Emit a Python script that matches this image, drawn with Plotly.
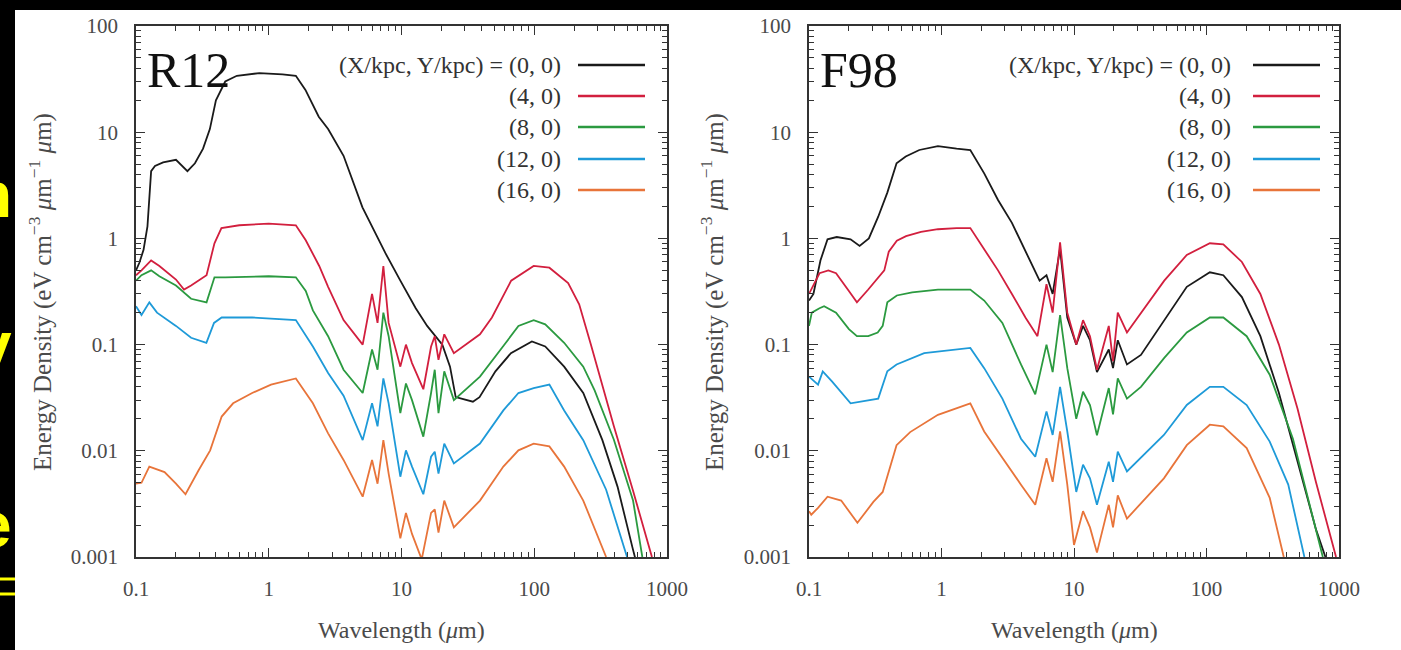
import plotly.graph_objects as go

# ---------------- data ----------------
series_labels = ["(0, 0)", "(4, 0)", "(8, 0)", "(12, 0)", "(16, 0)"]
series_colors = ["#1a1a1a", "#d21f3e", "#2b9a40", "#1e9ad8", "#e8743a"]
panel_names = ["R12", "F98"]

# R12 panel
r12_lam_0 = [0.1, 0.106, 0.114, 0.122, 0.13, 0.139, 0.16, 0.2, 0.244, 0.278, 0.32, 0.36, 0.4, 0.47, 0.575, 0.85, 1.27, 1.6, 1.89, 2.38, 2.8, 3.66, 5.08, 7.55, 9.8, 12.8, 15.6, 20.3, 23.2, 25.6, 34.5, 38.7, 51, 66.7, 96, 121, 168, 234, 326, 424, 552, 600]
r12_val_0 = [0.5, 0.59, 0.78, 1.3, 4.3, 4.8, 5.2, 5.5, 4.3, 5.1, 7.0, 10.7, 20, 30, 34, 36, 35, 34, 25, 14, 10.7, 6, 1.96, 0.73, 0.4, 0.22, 0.15, 0.1, 0.062, 0.032, 0.029, 0.032, 0.056, 0.083, 0.107, 0.096, 0.062, 0.035, 0.0126, 0.0046, 0.0012, 0.0008]

r12_lam_4 = [0.1, 0.11, 0.13, 0.15, 0.2, 0.23, 0.26, 0.34, 0.39, 0.44, 0.6, 1.0, 1.6, 1.9, 2.4, 2.8, 3.66, 5.1, 6.0, 6.6, 7.3, 8.0, 9.8, 10.8, 12, 14.6, 16.7, 17.8, 19, 21, 24.8, 39, 48, 67, 99, 130, 180, 218, 267, 398, 555, 770]
r12_val_4 = [0.45, 0.5, 0.62, 0.55, 0.41, 0.33, 0.36, 0.45, 0.9, 1.25, 1.33, 1.38, 1.33, 0.96, 0.55, 0.35, 0.17, 0.1, 0.3, 0.16, 0.55, 0.16, 0.062, 0.1, 0.067, 0.038, 0.096, 0.12, 0.072, 0.125, 0.083, 0.125, 0.18, 0.4, 0.55, 0.53, 0.38, 0.24, 0.1, 0.017, 0.0042, 0.001]

r12_lam_8 = [0.1, 0.11, 0.13, 0.15, 0.2, 0.26, 0.34, 0.39, 0.47, 1.0, 1.6, 1.9, 2.15, 2.8, 3.66, 5.1, 6.0, 6.6, 7.3, 8.0, 9.8, 10.8, 12, 14.6, 16.7, 17.8, 19, 21, 24.8, 39, 58.5, 76, 99, 121, 168, 234, 285, 398, 555, 652]
r12_val_8 = [0.4, 0.45, 0.5, 0.44, 0.36, 0.27, 0.25, 0.43, 0.43, 0.44, 0.43, 0.32, 0.21, 0.12, 0.058, 0.035, 0.09, 0.058, 0.2, 0.12, 0.0226, 0.043, 0.03, 0.0136, 0.035, 0.058, 0.0226, 0.056, 0.03, 0.05, 0.097, 0.15, 0.17, 0.155, 0.104, 0.062, 0.037, 0.0127, 0.0034, 0.001]

r12_lam_12 = [0.1, 0.11, 0.126, 0.144, 0.2, 0.26, 0.339, 0.387, 0.442, 0.75, 1.6, 2.15, 2.8, 3.66, 5.1, 6.0, 6.6, 7.3, 8.0, 9.8, 10.8, 12, 14.6, 16.7, 17.8, 19, 21, 24.8, 39, 58.5, 76, 99, 130, 168, 234, 348, 500]
r12_val_12 = [0.23, 0.19, 0.25, 0.2, 0.15, 0.116, 0.104, 0.16, 0.18, 0.18, 0.17, 0.096, 0.054, 0.033, 0.0126, 0.028, 0.017, 0.048, 0.028, 0.0057, 0.0101, 0.0071, 0.0039, 0.0088, 0.0098, 0.0061, 0.0117, 0.0076, 0.0117, 0.024, 0.035, 0.039, 0.042, 0.024, 0.0126, 0.0043, 0.001]

r12_lam_16 = [0.1, 0.11, 0.126, 0.164, 0.2, 0.236, 0.297, 0.362, 0.442, 0.539, 0.75, 1.04, 1.6, 2.15, 2.8, 3.66, 5.1, 6.0, 6.6, 7.3, 8.0, 9.8, 10.8, 12, 14.2, 16.7, 17.8, 19, 21, 24.8, 39, 58.5, 76, 99, 130, 168, 234, 348]
r12_val_16 = [0.0049, 0.005, 0.0071, 0.0063, 0.0049, 0.0039, 0.0066, 0.0101, 0.021, 0.028, 0.035, 0.042, 0.048, 0.028, 0.0146, 0.0082, 0.0037, 0.0082, 0.0049, 0.0126, 0.0061, 0.0015, 0.0026, 0.00165, 0.00095, 0.0026, 0.0028, 0.0017, 0.0034, 0.0019, 0.0034, 0.0071, 0.0101, 0.0117, 0.011, 0.0071, 0.0034, 0.001]

# F98 panel
f98_lam_0 = [0.1, 0.108, 0.122, 0.138, 0.162, 0.206, 0.241, 0.283, 0.333, 0.39, 0.458, 0.537, 0.68, 0.94, 1.3, 1.65, 2.1, 2.67, 3.4, 4.3, 5.5, 6.2, 6.9, 7.85, 8.9, 10.4, 11.7, 13.2, 14.9, 18.3, 19.7, 21.4, 25.1, 32, 48, 71, 106, 134, 185, 255, 352, 486, 672, 790]
f98_val_0 = [0.26, 0.3, 0.62, 0.98, 1.03, 0.98, 0.85, 1.0, 1.6, 2.7, 5.1, 5.9, 6.8, 7.4, 7.0, 6.8, 4.1, 2.3, 1.4, 0.77, 0.4, 0.45, 0.3, 0.8, 0.18, 0.1, 0.15, 0.11, 0.055, 0.09, 0.06, 0.11, 0.065, 0.08, 0.17, 0.35, 0.48, 0.45, 0.28, 0.12, 0.035, 0.008, 0.0018, 0.001]

f98_lam_4 = [0.1, 0.11, 0.12, 0.14, 0.16, 0.2, 0.23, 0.28, 0.33, 0.37, 0.4, 0.46, 0.54, 0.7, 0.94, 1.3, 1.65, 2.1, 2.67, 3.4, 4.3, 5.3, 6.2, 6.9, 7.85, 8.9, 10.4, 11.7, 13.2, 14.9, 18.3, 19.7, 21.4, 25.1, 32, 48, 71, 106, 134, 185, 255, 352, 486, 672, 950]
f98_val_4 = [0.3, 0.38, 0.47, 0.5, 0.47, 0.32, 0.25, 0.33, 0.42, 0.5, 0.75, 0.95, 1.05, 1.15, 1.22, 1.25, 1.25, 0.8, 0.5, 0.3, 0.18, 0.12, 0.37, 0.2, 0.92, 0.2, 0.1, 0.17, 0.12, 0.058, 0.15, 0.07, 0.2, 0.13, 0.2, 0.4, 0.7, 0.9, 0.88, 0.6, 0.3, 0.1, 0.025, 0.005, 0.001]

f98_lam_8 = [0.1, 0.105, 0.12, 0.13, 0.16, 0.2, 0.23, 0.28, 0.33, 0.36, 0.39, 0.46, 0.6, 0.94, 1.3, 1.65, 2.1, 2.88, 3.98, 5.1, 6.2, 6.9, 7.85, 8.9, 10.4, 11.7, 13.2, 14.9, 18.3, 19.7, 21.4, 25.1, 32, 48, 71, 106, 134, 201, 300, 449, 755]
f98_val_8 = [0.15, 0.2, 0.22, 0.23, 0.2, 0.14, 0.12, 0.12, 0.13, 0.15, 0.25, 0.29, 0.31, 0.33, 0.33, 0.33, 0.26, 0.16, 0.065, 0.034, 0.1, 0.055, 0.19, 0.06, 0.02, 0.036, 0.027, 0.014, 0.039, 0.022, 0.048, 0.031, 0.04, 0.075, 0.13, 0.18, 0.18, 0.12, 0.052, 0.013, 0.001]

f98_lam_12 = [0.1, 0.104, 0.117, 0.127, 0.149, 0.206, 0.241, 0.333, 0.39, 0.458, 0.74, 0.94, 1.65, 2.1, 2.88, 3.98, 5.1, 6.2, 6.9, 7.85, 8.9, 10.4, 11.7, 13.2, 14.9, 18.3, 19.7, 21.4, 25.1, 47.7, 71, 106, 134, 201, 300, 414, 548]
f98_val_12 = [0.05, 0.048, 0.042, 0.056, 0.045, 0.028, 0.029, 0.031, 0.056, 0.065, 0.083, 0.086, 0.093, 0.06, 0.031, 0.013, 0.0088, 0.0235, 0.0141, 0.04, 0.0152, 0.0041, 0.0074, 0.0055, 0.0031, 0.0079, 0.0051, 0.0098, 0.0064, 0.0141, 0.027, 0.04, 0.04, 0.027, 0.0122, 0.0048, 0.001]

f98_lam_16 = [0.1, 0.104, 0.117, 0.138, 0.175, 0.232, 0.306, 0.36, 0.458, 0.58, 0.94, 1.65, 2.1, 2.88, 3.98, 5.1, 6.2, 6.9, 7.85, 8.9, 10.0, 11.7, 13.2, 14.9, 18.3, 19.7, 21.4, 25.1, 47.7, 71, 106, 134, 201, 300, 383]
f98_val_16 = [0.0027, 0.0025, 0.0029, 0.0037, 0.0034, 0.0021, 0.0033, 0.0041, 0.0113, 0.015, 0.0218, 0.028, 0.0152, 0.0085, 0.0048, 0.0031, 0.0085, 0.0051, 0.0152, 0.0048, 0.0013, 0.0027, 0.0019, 0.0011, 0.0031, 0.0019, 0.0038, 0.0023, 0.0055, 0.0113, 0.0176, 0.017, 0.0106, 0.0036, 0.001]

x_tick_vals = [0.1, 1, 10, 100, 1000]
x_tick_text = ["0.1", "1", "10", "100", "1000"]
y_tick_vals = [0.001, 0.01, 0.1, 1, 10, 100]
y_tick_text = ["0.001", "0.01", "0.1", "1", "10", "100"]
legend_header = "(X/kpc, Y/kpc) = "
x_title = "Wavelength (<i>μ</i>m)"
y_title = "Energy Density (eV cm<sup>−3</sup> <i>μ</i>m<sup>−1</sup> <i>μ</i>m)"

panels = [
    [(r12_lam_0, r12_val_0), (r12_lam_4, r12_val_4), (r12_lam_8, r12_val_8),
     (r12_lam_12, r12_val_12), (r12_lam_16, r12_val_16)],
    [(f98_lam_0, f98_val_0), (f98_lam_4, f98_val_4), (f98_lam_8, f98_val_8),
     (f98_lam_12, f98_val_12), (f98_lam_16, f98_val_16)],
]

# ---------------- layout helpers ----------------
W, H = 1401, 650
def px(x):
    return x / W
def py(y):
    return 1 - y / H

SERIF = "Liberation Serif"
AXC = "#333333"
TXT = "#4a4a4a"

fig = go.Figure()
axis_ids = [("x", "y"), ("x2", "y2")]
for p, (xa, ya) in enumerate(axis_ids):
    for s, (lam, val) in enumerate(panels[p]):
        fig.add_trace(go.Scatter(
            x=lam, y=val, mode="lines", xaxis=xa, yaxis=ya,
            line=dict(color=series_colors[s], width=1.8),
            showlegend=False, hoverinfo="skip"))

x_minor = [m * 10 ** e for e in range(-1, 3) for m in range(2, 10)]
y_minor = [m * 10 ** e for e in range(-3, 2) for m in range(2, 10)]

def axis_style(kind):
    major = x_tick_vals if kind == "x" else y_tick_vals
    text = x_tick_text if kind == "x" else y_tick_text
    minor_vals = x_minor if kind == "x" else y_minor
    return dict(
        type="log", showline=True, linecolor=AXC, linewidth=1.5, mirror="allticks",
        ticks="inside", ticklen=9, tickwidth=1.2, tickcolor=AXC,
        tickmode="array", tickvals=major, ticktext=text,
        minor=dict(ticks="inside", ticklen=5, tickwidth=1, tickcolor=AXC,
                   tickmode="array", tickvals=minor_vals, showgrid=False),
        showgrid=False, zeroline=False, automargin=False,
        tickfont=dict(family=SERIF, size=21, color=TXT),
        ticklabelstandoff=12,
    )

x_domains = [[px(136), px(667)], [px(809), px(1339)]]
y_domain = [py(557), py(26)]

fig.update_layout(
    xaxis=dict(axis_style("x"), domain=x_domains[0], range=[-1, 3], anchor="y"),
    yaxis=dict(axis_style("y"), domain=y_domain, range=[-3, 2], anchor="x"),
    xaxis2=dict(axis_style("x"), domain=x_domains[1], range=[-1, 3], anchor="y2"),
    yaxis2=dict(axis_style("y"), domain=y_domain, range=[-3, 2], anchor="x2"),
)

shapes = [
    dict(type="rect", xref="paper", yref="paper", x0=px(15), x1=1.0, y0=0.0, y1=py(10),
         fillcolor="white", line=dict(width=0), layer="below"),
    dict(type="line", xref="paper", yref="paper", x0=0, x1=px(15), y0=py(579), y1=py(579),
         line=dict(color="#ffff00", width=3)),
    dict(type="line", xref="paper", yref="paper", x0=0, x1=px(15), y0=py(594), y1=py(594),
         line=dict(color="#ffff00", width=3)),
]
annotations = []

legend_rows = [65, 96, 127, 159, 190]
legend_text_right = [563, 1233]
legend_line_x = [(578, 645), (1253, 1320)]
panel_label_x = [145, 818]
x_title_x = [401, 1074]
y_title_x = [40, 712]

for p in range(2):
    for s in range(5):
        txt = (legend_header + series_labels[s]) if s == 0 else series_labels[s]
        annotations.append(dict(
            x=px(legend_text_right[p]), y=py(legend_rows[s]), xref="paper", yref="paper",
            text=txt, showarrow=False, xanchor="right", yanchor="middle",
            font=dict(family=SERIF, size=24, color="#333333")))
        shapes.append(dict(
            type="line", xref="paper", yref="paper",
            x0=px(legend_line_x[p][0]), x1=px(legend_line_x[p][1]),
            y0=py(legend_rows[s]), y1=py(legend_rows[s]),
            line=dict(color=series_colors[s], width=2.6)))
    annotations.append(dict(
        x=px(panel_label_x[p]), y=py(70), xref="paper", yref="paper",
        text=panel_names[p], showarrow=False, xanchor="left", yanchor="middle",
        font=dict(family=SERIF, size=50, color="#111111")))
    annotations.append(dict(
        x=px(x_title_x[p]), y=py(630), xref="paper", yref="paper",
        text=x_title, showarrow=False, xanchor="center", yanchor="middle",
        font=dict(family=SERIF, size=24, color=TXT)))
    annotations.append(dict(
        x=px(y_title_x[p]), y=py(292), xref="paper", yref="paper",
        text=y_title, showarrow=False, xanchor="center", yanchor="middle",
        textangle=-90, font=dict(family=SERIF, size=25, color=TXT)))

# cropped slide text at the far left edge
for letter, yy in [("n", 195), ("y", 345), ("e", 525)]:
    annotations.append(dict(
        x=px(14), y=py(yy), xref="paper", yref="paper", text="<b>" + letter + "</b>",
        showarrow=False, xanchor="right", yanchor="middle",
        font=dict(family="Liberation Sans", size=64, color="#ffff00")))

fig.update_layout(
    width=W, height=H, margin=dict(l=0, r=0, t=0, b=0, autoexpand=False),
    paper_bgcolor="black", plot_bgcolor="white",
    shapes=shapes, annotations=annotations, showlegend=False,
)

fig.write_html("out.html")
